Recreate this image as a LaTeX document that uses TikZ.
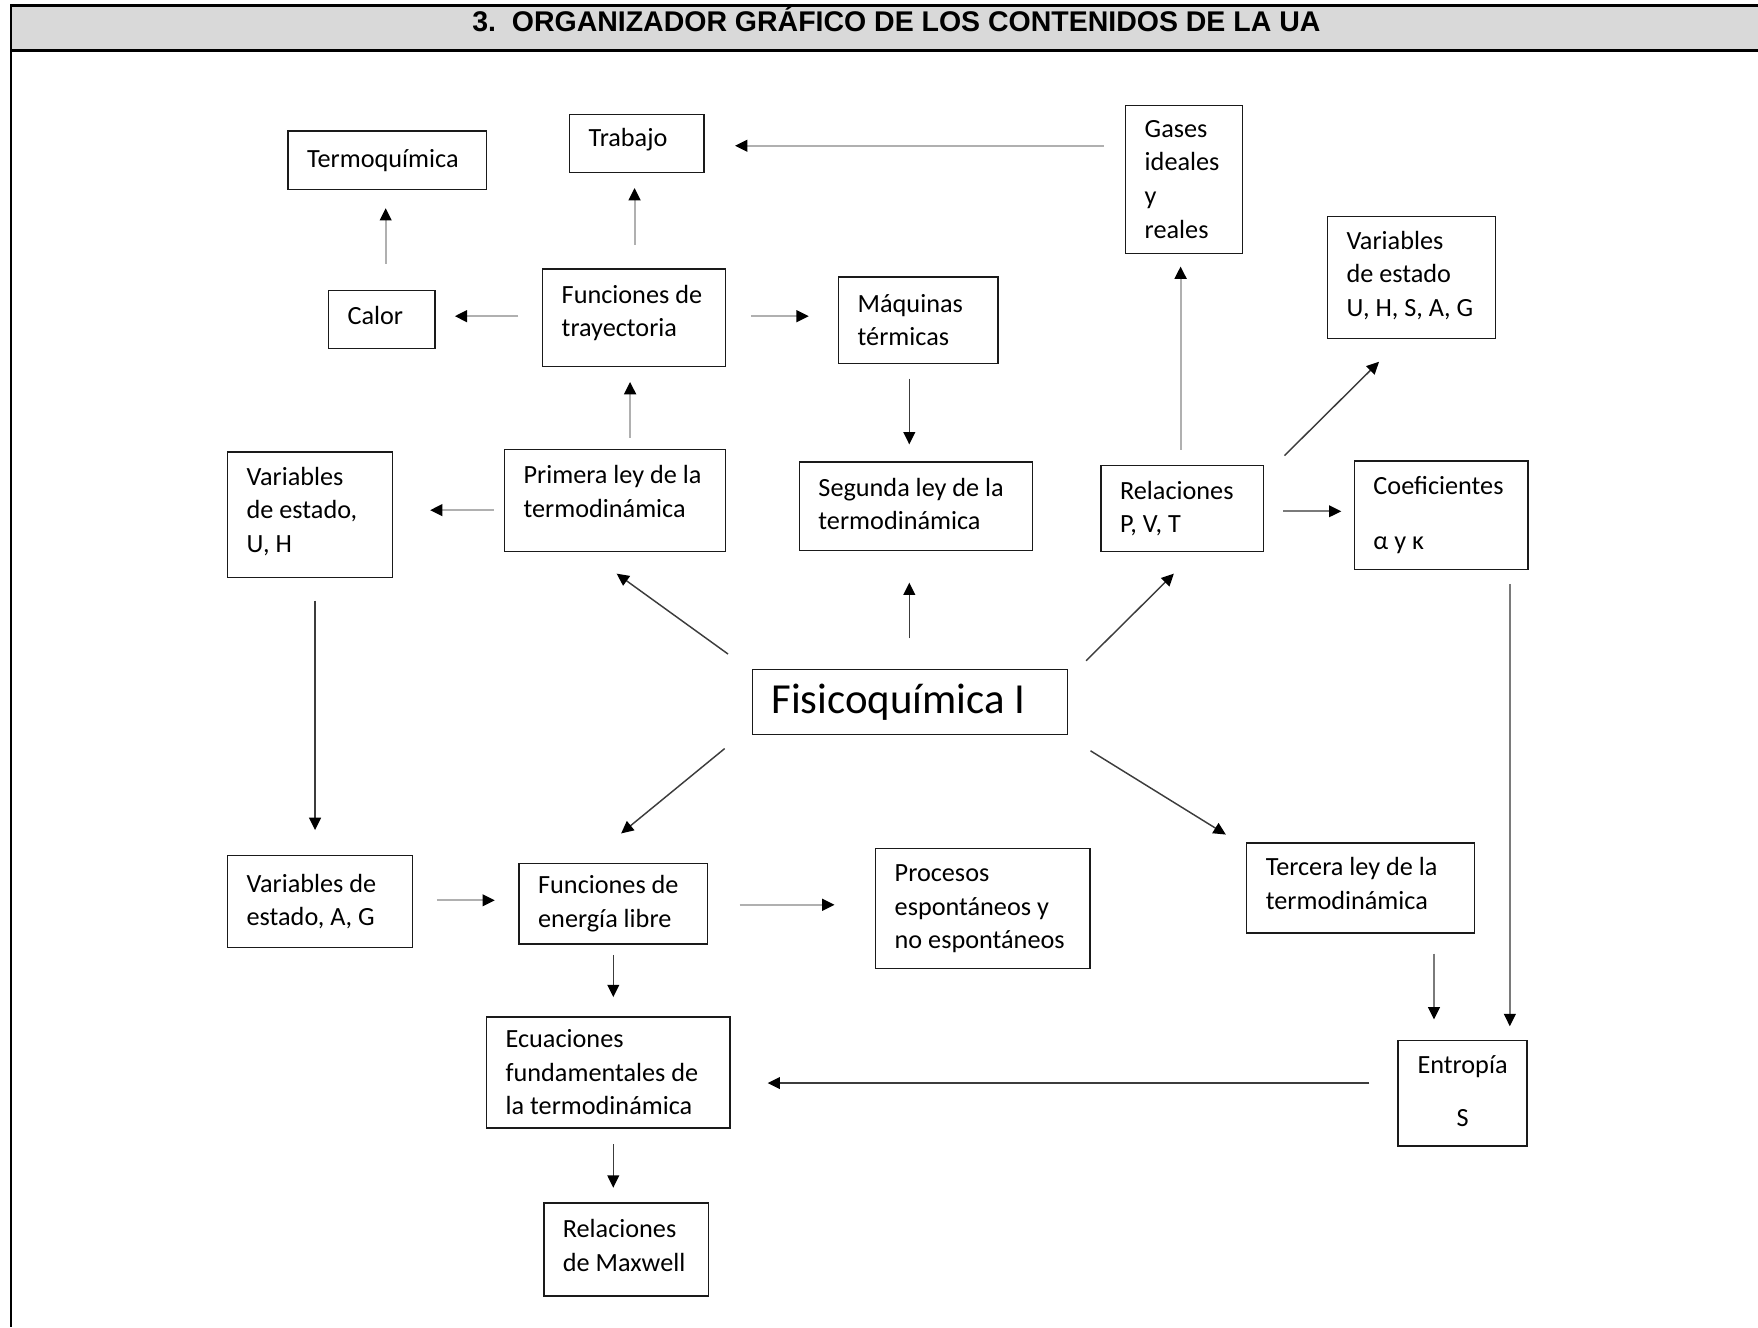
\documentclass[tikz,border=0pt]{standalone}
\usepackage{fontspec}
\setmainfont{Carlito}
\newfontfamily\headfont{Liberation Sans}
\usepackage{xcolor}
\definecolor{header-gray}{HTML}{D9D9D9}
\definecolor{arrow-light}{HTML}{B0B0B0}
\definecolor{arrow-mid}{HTML}{7A7A7A}
\definecolor{arrow-dark}{HTML}{3C3C3C}
\definecolor{box-line}{HTML}{1A1A1A}
\usetikzlibrary{arrows.meta, calc}

% extra depth under the last line, lifts the text in its box
\newcommand{\lifttext}[1]{\rule[-#1]{0pt}{0pt}}

\tikzset{
    frame/.style={line width=2pt, black},
    title/.style={anchor=base, inner sep=0pt, font=\headfont\bfseries\fontsize{25.4}{30}\selectfont},
    box/.style={draw=box-line, line width=1.3pt, inner xsep=17pt, inner ysep=0pt, align=flush left,
        font=\fontsize{23.4}{30}\selectfont},
    lightarrow/.style={draw=arrow-light, line width=1.8pt, -{Triangle[length=11pt, width=10.5pt, color=black]}},
    midarrow/.style={draw=arrow-mid, line width=1.4pt, -{Triangle[length=11pt, width=10.5pt, color=black]}},
    darkarrow/.style={draw=arrow-dark, line width=1.3pt, -{Triangle[length=11pt, width=10.5pt, color=black]}},
}

\begin{document}
\begin{tikzpicture}[x=1pt, y=-1pt]
    \useasboundingbox (0,0) rectangle (1568,1184);

    % Header
    \fill[header-gray] (9.5,5) rectangle (1568,45);
    \draw[frame] (1568,5) -- (9.5,5) -- (9.5,1184);
    \draw[frame] (9.5,45) -- (1568,45);
    \node[title] (titulo) at (799.5,28.3) {3.~~ORGANIZADOR GRÁFICO DE LOS CONTENIDOS DE LA UA};

    % Upper boxes
    \node[box, text width=143pt, minimum height=52pt] (termoquimica) at (345.5,143) {Termoquímica};
    \node[box, text width=86pt, minimum height=52pt] (trabajo) at (568,128) {Trabajo\lifttext{11pt}};
    \node[box, text width=70pt, minimum height=132pt] (gases) at (1056,160) {Gases\\ideales\\y\\reales};
    \node[box, text width=116pt, minimum height=109pt] (varestado) at (1259,247.5) {Variables\\de estado\\U, H, S, A, G\lifttext{7pt}};
    \node[box, text width=61pt, minimum height=52pt] (calor) at (340.5,285) {Calor\lifttext{8pt}};
    \node[box, text width=129pt, minimum height=87pt] (trayectoria) at (565.5,283.5) {Funciones de\\trayectoria\lifttext{12.5pt}};
    \node[box, text width=108pt, minimum height=77pt] (maquinas) at (819,285.5) {Máquinas\\térmicas};

    % Laws row
    \node[box, text width=113pt, minimum height=112pt] (varuh) at (276.5,459) {Variables\\de estado,\\U, H\lifttext{9pt}};
    \node[box, text width=163pt, minimum height=91pt] (primera) at (548.5,446.5) {Primera ley de la\\termodinámica\lifttext{16pt}};
    \node[box, text width=174pt, minimum height=79pt] (segunda) at (817,451.5) {Segunda ley de la\\termodinámica\lifttext{4pt}};
    \node[box, text width=111pt, minimum height=77pt] (pvt) at (1054.5,453.5) {Relaciones\\P, V, T};
    \node[box, text width=121pt, minimum height=97pt] (coeficientes) at (1285.5,459.5) {Coeficientes\\[19pt]α y κ};

    % Centre
    \node[box, text width=247pt, minimum height=58pt, font=\fontsize{38.2}{46}\selectfont] (fisico) at (811.5,626) {Fisicoquímica I};

    % Lower boxes
    \node[box, text width=131pt, minimum height=82pt] (varag) at (285.5,804) {Variables de\\estado, A, G};
    \node[box, text width=134pt, minimum height=72pt] (energia) at (547,806) {Funciones de\\energía libre};
    \node[box, text width=157pt, minimum height=107pt] (procesos) at (876.5,810.5) {Procesos\\espontáneos y\\no espontáneos};
    \node[box, text width=169pt, minimum height=80pt] (tercera) at (1213.5,792) {Tercera ley de la\\termodinámica\lifttext{8pt}};
    \node[box, text width=183pt, minimum height=99pt] (ecuaciones) at (542.5,956.5) {Ecuaciones\\fundamentales de\\la termodinámica};
    \node[box, text width=81pt, minimum height=94pt, align=flush center] (entropia) at (1304.5,975) {Entropía\\[17pt]S\lifttext{4pt}};
    \node[box, text width=113pt, minimum height=83pt] (maxwell) at (558.5,1114.5) {Relaciones\\de Maxwell\lifttext{8pt}};

    % Arrows, upper part
    \draw[lightarrow] ($(calor.north)+(3.5,-23)$) -- ($(termoquimica.south)+(-1.5,16)$);
    \draw[lightarrow] ($(trayectoria.north)+(0.5,-21)$) -- ($(trabajo.south)+(-2,13)$);
    \draw[lightarrow] ($(gases.west)+(-19,-30)$) -- ($(trabajo.east)+(27,2)$);
    \draw[lightarrow] ($(trayectoria.west)+(-21,-1.5)$) -- ($(calor.east)+(17,-3)$);
    \draw[lightarrow] ($(trayectoria.east)+(22,-1.5)$) -- ($(maquinas.west)+(-26,-3.5)$);
    \draw[darkarrow] ($(maquinas.south)+(-8,13)$) -- ($(segunda.north)+(-6,-15)$);
    \draw[lightarrow] ($(pvt.north)+(-1.5,-13)$) -- ($(gases.south)+(-3,11)$);
    \draw[darkarrow] ($(pvt.north east)+(18,-8)$) -- ($(varestado.south)+(-29,20)$);
    \draw[lightarrow] ($(primera.north)+(13.5,-10)$) -- ($(trayectoria.south)+(-3.5,13)$);
    \draw[lightarrow] ($(primera.west)+(-9,8.5)$) -- ($(varuh.east)+(33,-4)$);
    \draw[midarrow] ($(pvt.east)+(17,2.5)$) -- ($(coeficientes.west)+(-11,-3.5)$);

    % Arrows from the centre
    \draw[darkarrow] ($(fisico.north west)+(-21,-13)$) -- ($(primera.south)+(1.5,19)$);
    \draw[darkarrow] ($(fisico.north)+(-0.5,-27)$) -- ($(segunda.south)+(-6,28)$);
    \draw[darkarrow] ($(fisico.north east)+(16,-7)$) -- ($(pvt.south)+(-7.5,19)$);
    \draw[darkarrow] ($(fisico.south west)+(-24,12)$) -- ($(energia.north)+(7,-26)$);
    \draw[darkarrow] ($(fisico.south east)+(20,14)$) -- ($(tercera.north west)+(-18,-7)$);

    % Arrows, lower part
    \draw[darkarrow] ($(varuh.south)+(4.5,20)$) -- ($(varag.north)+(-4.5,-22)$);
    \draw[midarrow] ($(coeficientes.south east)+(-17,12)$) -- ($(entropia.north east)+(-16,-12)$);
    \draw[lightarrow] ($(varag.east)+(21,-1)$) -- ($(energia.west)+(-21,-3)$);
    \draw[lightarrow] ($(energia.east)+(28,1)$) -- ($(procesos.west)+(-36,-3.5)$);
    \draw[midarrow] ($(tercera.south)+(65.5,18)$) -- ($(entropia.north)+(-25.5,-18)$);
    \draw[darkarrow] ($(energia.south)+(0,9)$) -- ($(ecuaciones.north)+(4.5,-17)$);
    \draw[darkarrow] ($(entropia.west)+(-25,-9)$) -- ($(ecuaciones.east)+(33,9.5)$);
    \draw[darkarrow] ($(ecuaciones.south)+(4.5,14)$) -- ($(maxwell.north)+(-11.5,-13)$);

\end{tikzpicture}
\end{document}
